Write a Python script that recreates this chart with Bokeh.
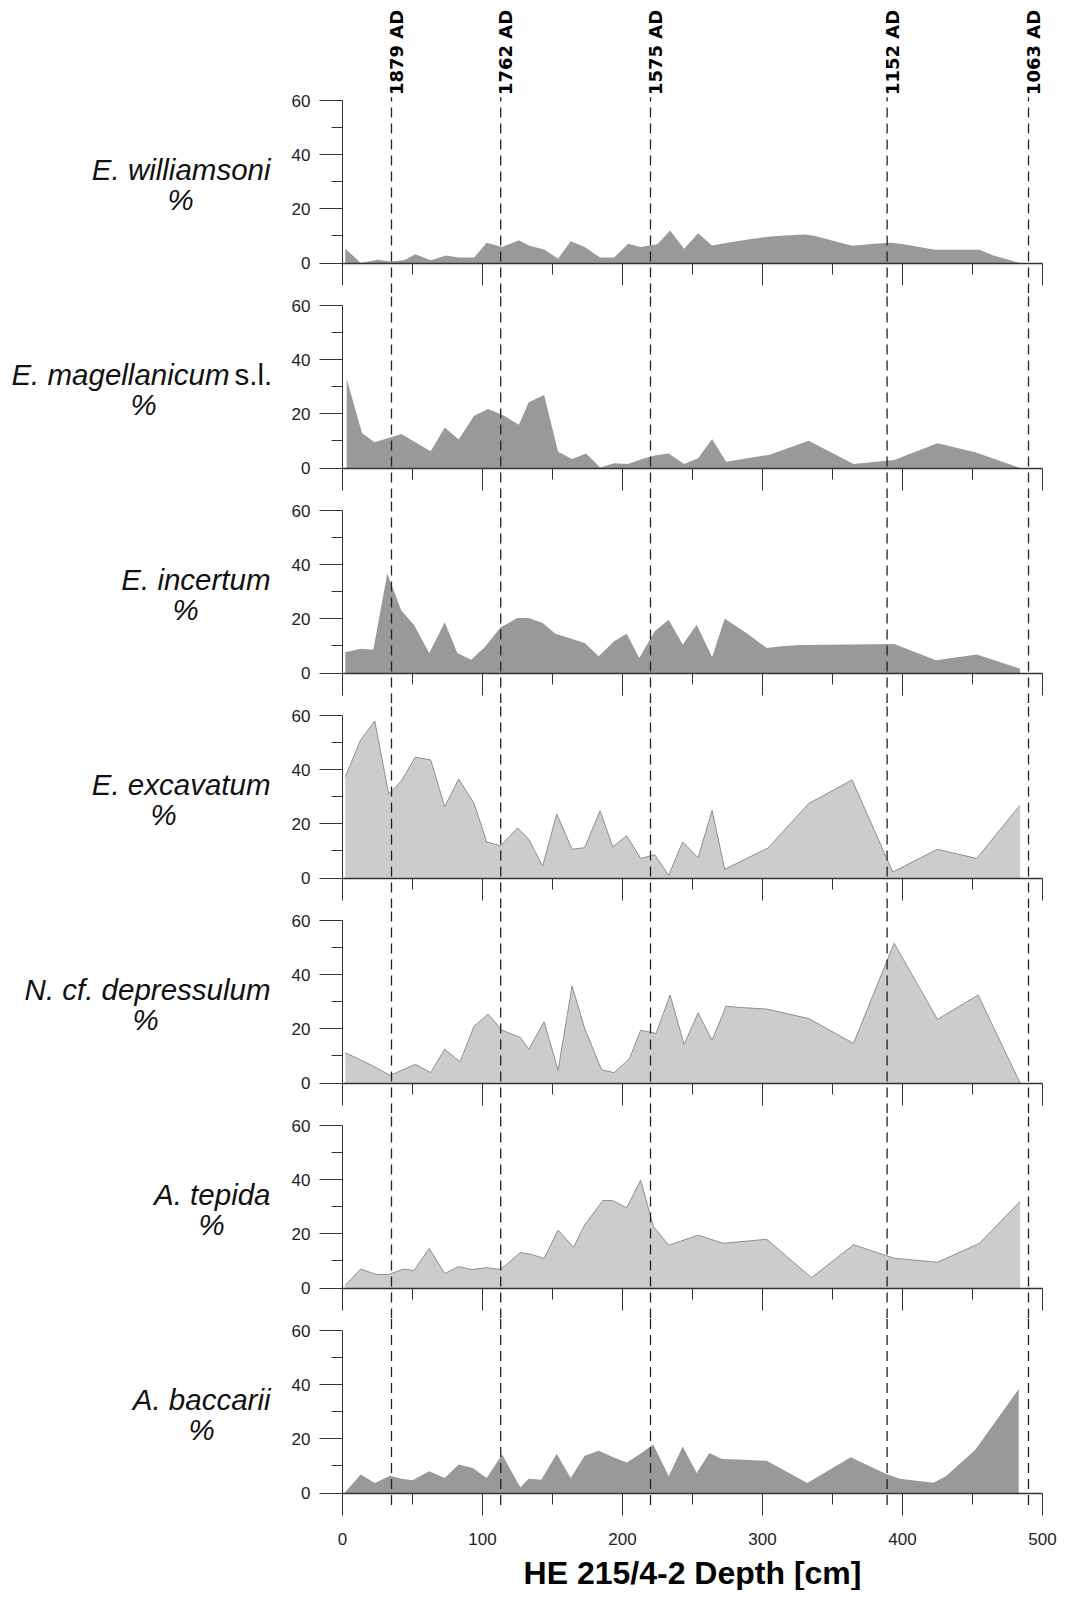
import numpy as np
from bokeh.plotting import figure
from bokeh.models import Range1d, LinearAxis, FixedTicker, CustomJSTickFormatter
from bokeh.layouts import column
from bokeh.embed import file_html
from bokeh.resources import INLINE
from bokeh.core.properties import value

# ---------------- data ----------------
williamsoni_depth = [2, 13, 25, 34, 44, 52, 63, 74, 83, 94, 103, 114, 126, 134, 144, 154, 163, 173, 184, 194,
                     204, 213, 225, 234, 244, 254, 264, 277, 292, 304, 313, 330, 337, 351, 364, 380, 392, 401,
                     423, 455, 465, 484]
williamsoni_pct = [5.3, 0, 1.2, 0.6, 1, 3.2, 1, 2.8, 2, 2, 7.5, 5.9, 8.4, 6.3, 5, 1.6, 8, 5.9, 2, 2,
                   7.1, 5.9, 6.9, 12, 5.3, 11, 6.5, 7.7, 8.9, 9.7, 10.1, 10.5, 10.1, 8.1, 6.4, 7.1, 7.5, 6.9,
                   4.9, 4.9, 2.8, 0]

magellanicum_depth = [3, 14, 23, 34, 42, 52, 63, 73, 83, 94, 104, 114, 126, 133, 144, 154, 164, 174, 184, 194,
                      204, 214, 223, 233, 244, 254, 264, 274, 305, 333, 365, 394, 425, 452, 484]
magellanicum_pct = [32.9, 12.8, 9.5, 11.3, 12.6, 9.5, 6.2, 15, 10.5, 19.3, 21.8, 19.7, 16, 24.3, 27, 6, 3.3, 5.4,
                    0.2, 1.8, 1.5, 3.3, 4.6, 5.4, 1.5, 3.6, 10.7, 2.3, 4.9, 10.1, 1.5, 3, 9.1, 5.8, 0]

incertum_depth = [2, 13, 22, 32, 42, 51, 62, 73, 82, 92, 102, 113, 125, 133, 143, 152, 163, 173, 183, 194,
                  203, 212, 223, 233, 243, 253, 264, 273, 288, 303, 312, 326, 380, 394, 424, 453, 484]
incertum_pct = [7.7, 9, 8.6, 36.7, 23.1, 17.8, 7.4, 18.7, 7.4, 4.9, 9.8, 16.9, 20.3, 20.3, 18.5, 14.5, 12.7,
                11.1, 6.2, 11.7, 14.5, 5.5, 15.4, 19.7, 10.5, 17.8, 5.9, 20, 15, 9.2, 9.8, 10.3, 10.6, 10.7,
                4.7, 6.8, 1.6]

excavatum_depth = [2, 13, 23, 33, 42, 52, 63, 73, 83, 94, 103, 113, 125, 133, 143, 153, 164, 173, 184, 193,
                   203, 213, 223, 233, 243, 254, 264, 273, 304, 333, 364, 393, 425, 453, 484]
excavatum_pct = [37.4, 51, 58, 31, 35.8, 44.6, 43.6, 26.3, 36.6, 27.5, 13.3, 11.9, 18.5, 14.3, 4.4, 23.6, 10.6,
                 11.2, 24.8, 11.5, 15.6, 7.2, 8.6, 1, 13.3, 7.5, 25, 3.2, 11.1, 27.5, 36.2, 2.2, 10.6, 7.2, 26.9]

depressulum_depth = [2, 21, 34, 52, 63, 73, 84, 94, 104, 114, 127, 133, 144, 154, 164, 173, 185, 194, 205, 213,
                     224, 234, 244, 254, 264, 274, 283, 303, 333, 365, 394, 425, 454, 484]
depressulum_pct = [11.2, 6.5, 2.8, 6.9, 3.8, 12.5, 7.8, 21, 25.4, 19.5, 16.8, 12.4, 22.6, 4.7, 35.8, 20.1, 4.9,
                   3.8, 9, 19.5, 18.3, 32.5, 14.2, 25.9, 15.8, 28.4, 27.9, 27.3, 23.8, 14.6, 51.6, 23.5, 32.5, 0]

tepida_depth = [2, 13, 24, 33, 44, 51, 62, 73, 83, 92, 103, 113, 127, 135, 144, 154, 165, 173, 186, 193,
                203, 213, 222, 233, 254, 272, 303, 335, 365, 394, 425, 455, 484]
tepida_pct = [1, 7, 5, 5, 7, 6.4, 14.6, 5.3, 7.9, 6.8, 7.5, 6.8, 13.1, 12.4, 10.9, 21.4, 15, 23.3, 32.3, 32.3,
              29.6, 39.8, 22.8, 15.8, 19.5, 16.5, 18, 3.8, 16, 11, 9.5, 16.5, 32]

baccarii_depth = [2, 13, 23, 34, 42, 50, 62, 73, 83, 93, 103, 114, 127, 133, 142, 153, 163, 173, 183, 193,
                  203, 212, 222, 233, 243, 253, 262, 271, 287, 303, 332, 363, 388, 398, 422, 431, 452, 483]
baccarii_pct = [0.4, 6.8, 3.7, 6.4, 5.3, 4.7, 8, 5.5, 10.5, 9.2, 5.5, 14.2, 2.1, 5.3, 4.9, 14.5, 5.5, 13.8,
                15.6, 13.3, 11.3, 14.2, 17.9, 6.2, 17.2, 7.4, 14.8, 12.6, 12.3, 11.9, 3.7, 13.2, 7.1, 5.3, 3.8,
                6.2, 16, 38.4]

species_names = ["E. williamsoni", "E. magellanicum", "E. incertum", "E. excavatum",
                 "N. cf. depressulum", "A. tepida", "A. baccarii"]
species_suffix = ["", " s.l.", "", "", "", "", ""]
species_shade = ["dark", "dark", "dark", "light", "light", "light", "dark"]

date_labels = ["1879 AD", "1762 AD", "1575 AD", "1152 AD", "1063 AD"]
date_depths = [35, 113, 220, 389, 490]

y_ticks = [0, 20, 40, 60]
y_minor = [10, 30, 50]
x_ticks = [0, 100, 200, 300, 400, 500]
x_minor = [50, 150, 250, 350, 450]
x_title = "HE 215/4-2 Depth [cm]"

series = [(williamsoni_depth, williamsoni_pct), (magellanicum_depth, magellanicum_pct),
          (incertum_depth, incertum_pct), (excavatum_depth, excavatum_pct),
          (depressulum_depth, depressulum_pct), (tepida_depth, tepida_pct),
          (baccarii_depth, baccarii_pct)]

# ---------------- layout ----------------
W = 1060
KX = 1.4                     # px per cm
X_ZERO_PX = 342.0            # px of depth 0 inside figure
x0 = -X_ZERO_PX / KX
x1 = x0 + W / KX
KY = 162.5 / 60.0            # px per percent
heights = [293, 205, 205, 205, 205, 205, 272]
top60 = [100, 12, 12, 12, 12, 12, 12]


def dx(ref_px):
    return x0 + ref_px / KX


pct_px = [180, 143, 185, 163, 145, 211, 201]
name_right_px = 270
AXC = "#333333"
FILL_DARK = "#999999"
FILL_LIGHT = "#cccccc"
NAME_FONT = "29.5px"

figs = []
n = len(series)
for i, (dep, pct) in enumerate(series):
    H = heights[i]
    yt = 60 + top60[i] / KY
    yb = yt - H / KY
    p = figure(width=W, height=H, x_range=Range1d(x0, x1), y_range=Range1d(yb, yt),
               output_backend="svg", toolbar_location=None, min_border=0,
               x_axis_type=None, y_axis_type=None, outline_line_color=None,
               background_fill_color="white", border_fill_color="white")

    if species_shade[i] == "dark":
        p.varea(x=dep, y1=0, y2=pct, fill_color=FILL_DARK, fill_alpha=1)
    else:
        p.varea(x=dep, y1=0, y2=pct, fill_color=FILL_LIGHT, fill_alpha=1)
        p.line(dep, pct, line_color="#8f8f8f", line_width=1)

    # dashed date lines
    lo = yb
    hi = yt
    if i == 0:
        hi = 61.2
    if i == n - 1:
        lo = -12 / KY
    p.segment(x0=date_depths, y0=[lo] * len(date_depths), x1=date_depths, y1=[hi] * len(date_depths),
              line_color="#222222", line_width=1.3, line_dash="10 6")

    # y axis
    ya = LinearAxis(fixed_location=0, bounds=(0, 60),
                    ticker=FixedTicker(ticks=y_ticks, minor_ticks=y_minor))
    ya.major_tick_out = 23
    ya.major_tick_in = 0
    ya.minor_tick_out = 11
    ya.minor_tick_in = 0
    ya.axis_line_color = AXC
    ya.major_tick_line_color = AXC
    ya.minor_tick_line_color = AXC
    ya.major_label_text_font = "Liberation Sans"
    ya.major_label_text_font_size = "17px"
    ya.major_label_text_color = "#222222"
    ya.major_label_standoff = 9
    p.add_layout(ya, "left")

    # x axis
    xa = LinearAxis(fixed_location=0, bounds=(0, 500),
                    ticker=FixedTicker(ticks=x_ticks, minor_ticks=x_minor))
    xa.major_tick_out = 22
    xa.major_tick_in = 0
    xa.minor_tick_out = 11
    xa.minor_tick_in = 0
    xa.axis_line_color = AXC
    xa.axis_line_width = 1.5
    xa.major_tick_line_color = AXC
    xa.minor_tick_line_color = AXC
    if i == n - 1:
        xa.major_label_text_font = "Liberation Sans"
        xa.major_label_text_font_size = "17px"
        xa.major_label_text_color = "#222222"
        xa.major_label_standoff = 18
        xa.axis_label = x_title
        xa.axis_label_text_font = "Liberation Sans"
        xa.axis_label_text_font_size = "32px"
        xa.axis_label_text_font_style = "bold"
        xa.axis_label_text_color = "black"
        xa.axis_label_standoff = 6
    else:
        xa.formatter = CustomJSTickFormatter(code="return ''")
    p.add_layout(xa, "below")

    # species label
    if species_suffix[i]:
        p.text(x=[dx(229)], y=[34.5], text=[species_names[i]], text_align="right", text_baseline="middle",
               text_font=value("Liberation Sans"), text_font_style="italic", text_font_size=NAME_FONT,
               text_color="#111111")
        p.text(x=[dx(234)], y=[34.5], text=[species_suffix[i].strip()], text_align="left",
               text_baseline="middle", text_font=value("Liberation Sans"), text_font_size=NAME_FONT,
               text_color="#111111")
    else:
        p.text(x=[dx(name_right_px)], y=[34.5], text=[species_names[i]], text_align="right",
               text_baseline="middle", text_font=value("Liberation Sans"), text_font_style="italic",
               text_font_size=NAME_FONT, text_color="#111111")
    p.text(x=[dx(pct_px[i])], y=[23.5], text=["%"], text_align="center", text_baseline="middle",
           text_font=value("Liberation Sans"), text_font_style="italic", text_font_size=NAME_FONT,
           text_color="#111111")

    if i == 0:
        p.text(x=[d + 5 / KX for d in date_depths], y=[62] * len(date_depths), text=date_labels,
               angle=np.pi / 2, text_align="left", text_baseline="middle",
               text_font=value("DejaVu Sans"), text_font_style="bold", text_font_size="18px",
               text_color="black")

    figs.append(p)

layout = column(*figs, spacing=0)
open("out.html", "w").write(file_html(layout, INLINE))
